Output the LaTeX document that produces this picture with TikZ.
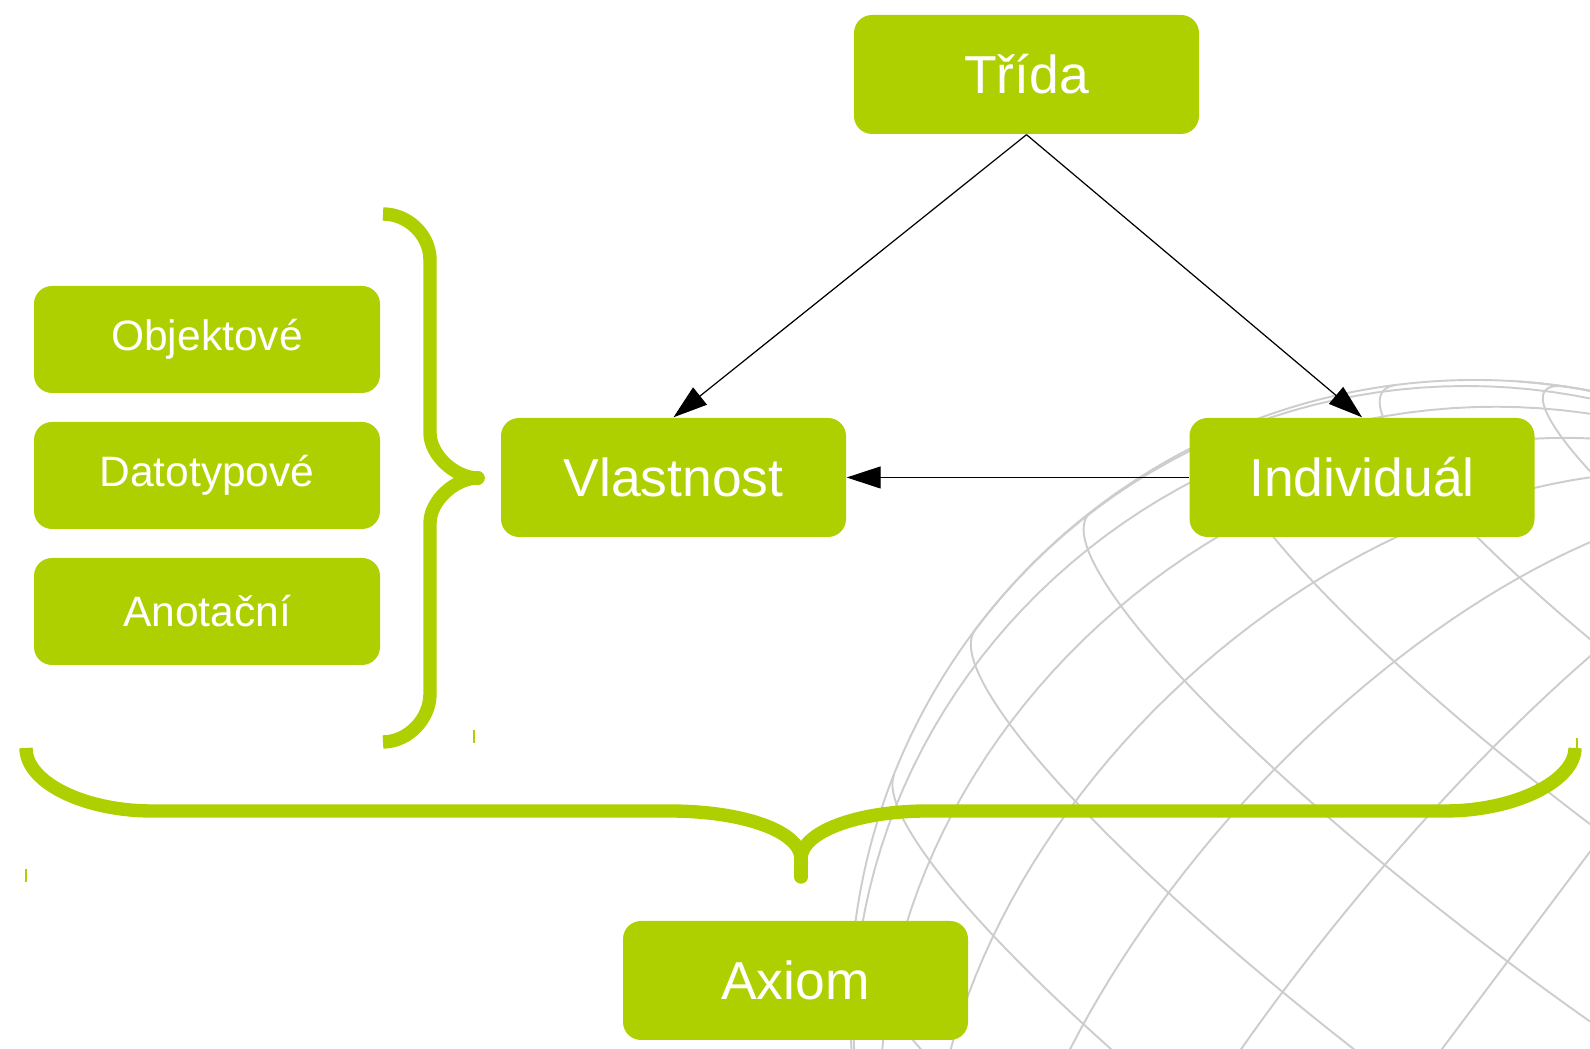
\documentclass[tikz,border=0pt]{standalone}
\usepackage{fontspec}
\setmainfont{Liberation Sans}
\usepackage{tikz}
\usetikzlibrary{arrows.meta,positioning}
\definecolor{owlgreen}{RGB}{175,208,0}
\definecolor{globegray}{RGB}{205,205,205}
% globe parameters
\def\gx{14.75}\def\gy{0.44}\def\gr{6.25}
\def\ux{0.6}\def\uy{0.8}\def\gs{0.985}\def\gc{0.174}

\begin{document}
\begin{tikzpicture}[
  bigbox/.style={fill=owlgreen, rounded corners=0.18cm, text=white, inner sep=0pt,
    minimum width=3.45cm, minimum height=1.19cm, font=\fontsize{15.2}{18}\selectfont},
  smallbox/.style={fill=owlgreen, rounded corners=0.18cm, text=white, inner sep=0pt,
    minimum width=3.46cm, minimum height=1.07cm, font=\fontsize{12.1}{14}\selectfont},
  arrow/.style={-{Triangle[length=0.34cm,width=0.22cm]}, line width=0.35pt},
  brace/.style={draw=owlgreen, line width=3.8pt, line join=round},
  tick/.style={draw=owlgreen, line width=0.4pt},
  globeline/.style={draw=globegray, line width=0.55pt}
]
\path[use as bounding box] (0,0) rectangle (15.9,10.49);

% Globe in the background
\begin{scope}
\clip (0,0) rectangle (15.9,10.49);
\draw[globeline] (\gx,\gy) circle[radius=\gr];
\foreach \lat in {-75,-60,...,75}{
  \pgfmathsetmacro\kk{max(-1,min(1,tan(\lat)*\gc/\gs))}
  \pgfmathsetmacro\tstart{180-asin(\kk)}
  \pgfmathsetmacro\tend{360+asin(\kk)-0.01}
  \draw[globeline] plot[domain=\tstart:\tend, samples=90, variable=\ang]
    ({\gx+\gr*(sin(\lat)*\gs*\ux+cos(\lat)*(-cos(\ang)*\uy+sin(\ang)*\gc*\ux))},
     {\gy+\gr*(sin(\lat)*\gs*\uy+cos(\lat)*(cos(\ang)*\ux+sin(\ang)*\gc*\uy))});
}
\foreach \lon in {0,15,...,165}{
  \pgfmathsetmacro\gam{atan2(-\gs*sin(\lon),\gc)}
  \pgfmathsetmacro\bstart{-\gam}
  \pgfmathsetmacro\bend{180-\gam}
  \draw[globeline] plot[domain=\bstart:\bend, samples=90, variable=\ang]
    ({\gx+\gr*(sin(\ang)*\gs*\ux+cos(\ang)*(-cos(\lon)*\uy+sin(\lon)*\gc*\ux))},
     {\gy+\gr*(sin(\ang)*\gs*\uy+cos(\ang)*(cos(\lon)*\ux+sin(\lon)*\gc*\uy))});
}
\end{scope}

% Main concepts
\node[bigbox] (trida) at (10.265,9.745) {Třída};
\node[bigbox] (vlastnost) at (6.735,5.715) {Vlastnost};
\node[bigbox] (individual) at (13.62,5.715) {Individuál};
\node[bigbox] (axiom) at (7.955,0.685) {Axiom};

% Kinds of properties
\node[smallbox] (objektove) at (2.07,7.095) {Objektové};
\node[smallbox] (datotypove) at (2.07,5.735) {Datotypové};
\node[smallbox] (anotacni) at (2.07,4.375) {Anotační};

\draw[arrow] (trida.south) -- (vlastnost.north);
\draw[arrow] (trida.south) -- (individual.north);
\draw[arrow] (individual.west) -- (vlastnost.east);

% Brace grouping the properties
\draw[brace] (3.83,8.35) .. controls (4.08,8.35) and (4.30,8.14) .. (4.30,7.89)
  -- (4.30,6.16) .. controls (4.30,5.94) and (4.55,5.71) .. (4.78,5.71)
  .. controls (4.55,5.71) and (4.30,5.48) .. (4.30,5.26)
  -- (4.30,3.55) .. controls (4.30,3.30) and (4.08,3.07) .. (3.83,3.07);
\draw[brace, line cap=round] (4.72,5.71) -- (4.78,5.71);

% Brace over the axiom
\draw[brace] (0.26,3.01) .. controls (0.26,2.66) and (0.85,2.38) .. (1.52,2.38)
  -- (6.69,2.38) .. controls (7.45,2.38) and (8.01,2.17) .. (8.01,1.90)
  .. controls (8.01,2.17) and (8.57,2.38) .. (9.28,2.38)
  -- (14.45,2.38) .. controls (15.15,2.38) and (15.75,2.68) .. (15.75,3.01);
\draw[brace, line cap=round] (8.01,1.92) -- (8.01,1.72);

% small marks
\draw[tick] (4.74,3.19) -- (4.74,3.06);
\draw[tick] (0.26,1.80) -- (0.26,1.67);
\draw[tick] (15.77,3.11) -- (15.77,3.01);
\end{tikzpicture}
\end{document}
